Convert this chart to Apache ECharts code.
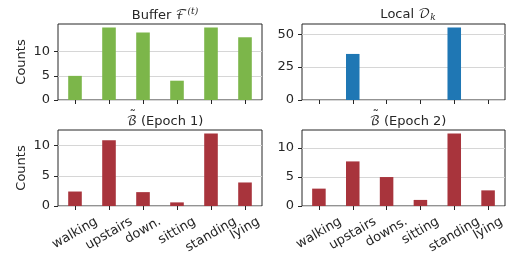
<!DOCTYPE html>
<html>
<head>
<meta charset="utf-8">
<script src="https://cdn.jsdelivr.net/npm/echarts@6/dist/echarts.min.js"></script>
<style>
html, body { margin: 0; padding: 0; background: #fff; }
#chartBox { width: 514px; height: 259px; }
</style>
</head>
<body>
<div id="chartBox"></div>
<script>
// categories
const labelsEpoch1 = ['walking', 'upstairs', 'down.', 'sitting', 'standing', 'lying']
const labelsEpoch2 = ['walking', 'upstairs', 'downs.', 'sitting', 'standing', 'lying']
// counts
const bufferCounts = [5, 15, 14, 4, 15, 13]
const localCounts = [0, 35, 0, 0, 55, 0]
const epoch1Counts = [2.4, 10.9, 2.3, 0.6, 12, 3.9]
const epoch2Counts = [3, 7.7, 5, 1.05, 12.5, 2.7]
// tick labels
const bufferTicks = [0, 5, 10]
const localTicks = [0, 25, 50]
const epochTicks = [0, 5, 10]

const font = 'DejaVu Sans'
const mathFont = 'DejaVu Math TeX Gyre, DejaVu Serif, serif'
const fs = 13
const green = '#7cb64a'
const blue = '#1f77b4'
const red = '#a8343c'
const dark = '#262626'

// matplotlib-like rotated labels: rotated box centred on the tick, top edge aligned
const ctx = document.createElement('canvas').getContext('2d')
function textW (s, family) {
  ctx.font = fs + 'px ' + family
  return ctx.measureText(s).width
}
const rot = Math.PI / 6
function boxH (s) {
  return textW(s, font) * Math.sin(rot) + fs * Math.cos(rot)
}
const labelGap = 9
function labelRich (cats) {
  let minH = Math.min.apply(null, cats.map(boxH))
  let rich = {}
  cats.forEach((c, i) => {
    let d = (boxH(c) - minH) / 2
    rich['l' + i] = {
      fontFamily: font,
      fontSize: fs,
      color: dark,
      padding: [2 * d * Math.cos(rot), 2 * d * Math.sin(rot), 0, 0]
    }
  })
  return rich
}
function catMargin (cats) {
  return labelGap + Math.min.apply(null, cats.map(boxH)) / 2
}

let grids = [
  { left: 58, top: 24, width: 204, height: 76 },
  { left: 302, top: 24, width: 203, height: 76 },
  { left: 58, top: 130, width: 204, height: 76 },
  { left: 302, top: 130, width: 203, height: 76 }
].map(g => Object.assign(g, {
  show: true,
  borderColor: dark,
  borderWidth: 1,
  backgroundColor: 'transparent',
  outerBoundsMode: 'none',
  containLabel: false
}))

function xAxis (idx, cats, showLabels) {
  return {
    type: 'category',
    gridIndex: idx,
    data: cats,
    boundaryGap: true,
    axisLine: { show: false },
    axisTick: { show: true, alignWithLabel: true, length: 4, lineStyle: { color: dark } },
    axisLabel: {
      show: showLabels,
      rotate: 30,
      align: 'center',
      verticalAlign: 'middle',
      margin: catMargin(cats),
      interval: 0,
      fontFamily: font,
      fontSize: fs,
      color: dark,
      formatter: (v, i) => '{l' + i + '|' + v + '}',
      rich: labelRich(cats)
    }
  }
}

function yAxis (idx, max, ticks, name) {
  return {
    type: 'value',
    gridIndex: idx,
    min: 0,
    max: max,
    name: name,
    nameLocation: 'middle',
    nameGap: 30,
    nameTextStyle: { fontFamily: font, fontSize: fs, color: dark },
    axisLine: { show: false },
    axisTick: { show: true, length: 4, customValues: ticks, lineStyle: { color: dark } },
    axisLabel: { customValues: ticks, fontFamily: font, fontSize: fs, color: dark, margin: 8 },
    splitLine: { show: true, lineStyle: { color: '#d6d6d6', width: 1 } }
  }
}

function bars (idx, data, color) {
  return {
    type: 'bar',
    xAxisIndex: idx,
    yAxisIndex: idx,
    data: data,
    barWidth: '40%',
    itemStyle: { color: color },
    silent: true
  }
}

const titleRich = {
  m: { fontFamily: mathFont, fontSize: fs, color: dark },
  sup: { fontFamily: 'DejaVu Serif', fontStyle: 'italic', fontSize: 9, color: dark, padding: [0, 0, 8, 0] },
  sub: { fontFamily: 'DejaVu Serif', fontStyle: 'italic', fontSize: 9, color: dark, padding: [6, 0, 0, 0] }
}

function title (text, cx, y) {
  return {
    text: text,
    left: cx,
    top: y,
    textAlign: 'center',
    textStyle: { fontFamily: font, fontSize: fs, fontWeight: 'normal', color: dark, rich: titleRich }
  }
}

// tilde accent over the script B (no combining glyph in the math font)
function tilde (rest, cx, y) {
  let wB = textW('ℬ', mathFont)
  let w = wB + textW(rest, font)
  return {
    text: '˜',
    left: cx - w / 2 + wB / 2 + 1,
    top: y,
    textAlign: 'center',
    textStyle: { fontFamily: font, fontSize: 13, fontWeight: 'normal', color: dark }
  }
}

let myChart = echarts.init(document.getElementById('chartBox'), null, { renderer: 'canvas' })
myChart.setOption({
  animation: false,
  title: [
    title('Buffer {m|ℱ}{sup|(t)}', 160, 2),
    title('Local {m|𝒟}{sub|k}', 403, 2),
    title('{m|ℬ} (Epoch 1)', 160, 110),
    title('{m|ℬ} (Epoch 2)', 403, 110),
    tilde(' (Epoch 1)', 160, 104),
    tilde(' (Epoch 2)', 403, 104)
  ],
  grid: grids,
  xAxis: [
    xAxis(0, labelsEpoch1, false),
    xAxis(1, labelsEpoch1, false),
    xAxis(2, labelsEpoch1, true),
    xAxis(3, labelsEpoch2, true)
  ],
  yAxis: [
    yAxis(0, 15.75, bufferTicks, 'Counts'),
    yAxis(1, 57.75, localTicks, ''),
    yAxis(2, 12.6, epochTicks, 'Counts'),
    yAxis(3, 13.125, epochTicks, '')
  ],
  series: [
    bars(0, bufferCounts, green),
    bars(1, localCounts, blue),
    bars(2, epoch1Counts, red),
    bars(3, epoch2Counts, red)
  ]
})
</script>
</body>
</html>
